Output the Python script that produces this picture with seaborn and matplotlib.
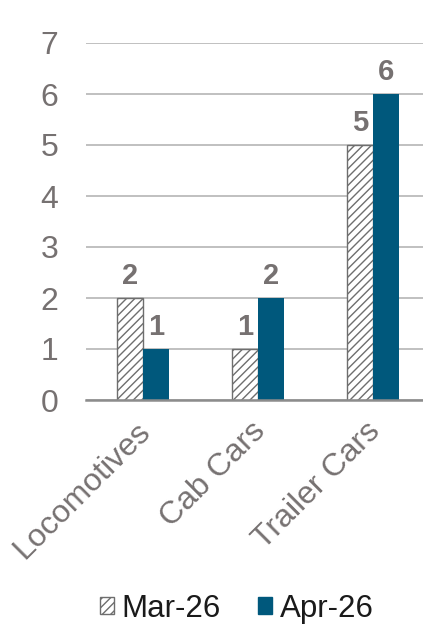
import matplotlib
matplotlib.use("Agg")
import matplotlib.pyplot as plt
import matplotlib.patches as mpatches
from matplotlib.transforms import ScaledTranslation
import seaborn as sns
import pandas as pd

categories = ["Locomotives", "Cab Cars", "Trailer Cars"]
series_names = ["Mar-26", "Apr-26"]
mar_values = [2, 1, 5]
apr_values = [1, 2, 6]
y_ticks = [0, 1, 2, 3, 4, 5, 6, 7]

GRAY_TEXT = "#767171"
BLUE = "#00587C"
HATCH_EDGE = "#6E6E6E"

sns.set_theme(style="white")
plt.rcParams["font.family"] = ["Liberation Sans", "DejaVu Sans"]
plt.rcParams["hatch.linewidth"] = 1.0

df = pd.DataFrame({
    "category": categories * 2,
    "series": [series_names[0]] * 3 + [series_names[1]] * 3,
    "value": mar_values + apr_values,
})

fig = plt.figure(figsize=(4.23, 6.29), dpi=100)
ax = fig.add_axes([86 / 423, (629 - 400) / 629, 337 / 423, (400 - 43) / 629])

sns.barplot(data=df, x="category", y="value", hue="series",
            hue_order=series_names, order=categories,
            palette=["white", BLUE], width=0.452, saturation=1,
            legend=False, ax=ax, zorder=3)

# first series: white with diagonal hatch
for bar in ax.containers[0]:
    bar.set_facecolor("white")
    bar.set_edgecolor(HATCH_EDGE)
    bar.set_hatch("////")
    bar.set_linewidth(1.0)
for bar in ax.containers[1]:
    bar.set_edgecolor(BLUE)
    bar.set_linewidth(0)

for cont in ax.containers:
    ax.bar_label(cont, fmt="%d", padding=6, fontsize=21, fontweight="bold",
                 color=GRAY_TEXT)

ax.set_ylim(0, 7)
ax.set_xlim(-57 / 115, -57 / 115 + 337 / 115)
ax.set_yticks(y_ticks)
ax.set_yticklabels([str(t) for t in y_ticks])
ax.yaxis.grid(True, color="#C0C0C0", linewidth=1.4, zorder=0)
ax.set_axisbelow(True)
for side in ["left", "right", "top"]:
    ax.spines[side].set_visible(False)
ax.spines["bottom"].set_color("#8C8C8C")
ax.spines["bottom"].set_linewidth(1.8)
ax.spines["bottom"].set_zorder(4)

ax.tick_params(axis="y", length=0, pad=20, labelsize=23, labelcolor=GRAY_TEXT)
ax.tick_params(axis="x", length=0, pad=12, labelsize=23, labelcolor=GRAY_TEXT)
shift = ScaledTranslation(-8 / 100, 0, fig.dpi_scale_trans)
for lbl in ax.get_xticklabels():
    lbl.set_rotation(45)
    lbl.set_ha("right")
    lbl.set_rotation_mode("anchor")
    lbl.set_transform(lbl.get_transform() + shift)
ax.set_xlabel("")
ax.set_ylabel("")

handles = [
    mpatches.Patch(facecolor="white", edgecolor=HATCH_EDGE, hatch="////",
                   linewidth=1.0, label=series_names[0]),
    mpatches.Patch(facecolor=BLUE, edgecolor=BLUE, label=series_names[1]),
]
fig.legend(handles=handles, loc="center", bbox_to_anchor=(0.56, 1 - 609 / 629),
           ncol=2, frameon=False, fontsize=22.5, handlelength=0.45,
           handleheight=0.45, handletextpad=0.25, columnspacing=1.2,
           labelcolor="#1A1A1A")

fig.savefig("out.png", dpi=100)
